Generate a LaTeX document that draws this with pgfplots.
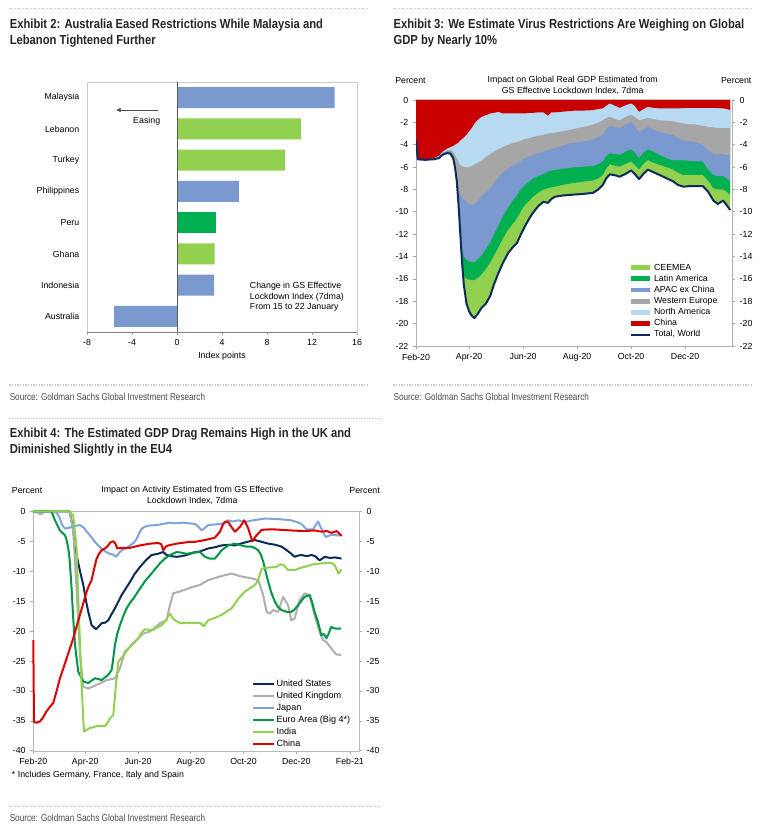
\documentclass[border=0pt]{standalone}
\usepackage{fontspec}
\setmainfont{Liberation Sans}
\newfontfamily\titlefont[FakeStretch=0.86]{Liberation Sans}
\newfontfamily\srcfont[FakeStretch=0.82]{Liberation Sans}
\usepackage{pgfplots}
\usepackage{pgfplotstable}
\pgfplotsset{compat=1.18}
\usetikzlibrary{arrows.meta}

\definecolor{gsblue}{RGB}{122,153,206}
\definecolor{gslgreen}{RGB}{146,208,80}
\definecolor{gsdgreen}{RGB}{0,176,80}
\definecolor{gsgrey}{RGB}{166,166,166}
\definecolor{gslblue}{RGB}{183,217,242}
\definecolor{gsred}{RGB}{200,0,0}
\definecolor{gsnavy}{RGB}{12,42,92}
\definecolor{ukgrey}{RGB}{175,175,175}
\definecolor{jpblue}{RGB}{125,165,215}
\definecolor{eagreen}{RGB}{0,150,70}
\definecolor{cnred}{RGB}{220,0,0}

\newcommand\cf{\fontsize{6.6}{7.9}\selectfont}
\newcommand\ttl{\titlefont\bfseries\fontsize{9.8}{12}\selectfont}
\newcommand\src{\srcfont\fontsize{7.5}{9}\selectfont}

% Exhibit 3: lower edges of the stacked regions (day 0 = 1 Feb 2020)
% b1 China, b2 North America, b3 Western Europe, b4 APAC ex China,
% b5 Latin America, b6 CEEMEA = total
\pgfplotstableread{
d b1 b2 b3 b4 b5 b6
0 -3.6 -3.6 -3.6 -3.6 -3.6 -3.6
2 -5.3 -5.3 -5.3 -5.3 -5.3 -5.3
10 -5.35 -5.35 -5.35 -5.35 -5.35 -5.35
20 -5.2 -5.25 -5.28 -5.3 -5.3 -5.3
26 -5.0 -5.1 -5.15 -5.15 -5.18 -5.2
30 -4.6 -4.7 -4.75 -4.8 -4.85 -4.9
35 -4.35 -4.5 -4.6 -4.65 -4.7 -4.75
39 -4.2 -4.45 -4.6 -4.65 -4.7 -4.8
42 -4.1 -4.6 -4.9 -5.0 -5.1 -5.2
44 -4.0 -4.9 -5.6 -5.8 -5.9 -6.0
46 -3.9 -5.2 -6.8 -7.0 -7.1 -7.2
48 -3.8 -5.5 -7.8 -9.0 -9.2 -9.3
50 -3.6 -5.8 -8.4 -11.8 -11.8 -11.9
52 -3.5 -5.9 -8.7 -13.3 -14.3 -14.5
54 -3.35 -5.96 -8.9 -14.0 -15.7 -16.5
57 -3.1 -6.0 -9.1 -14.3 -16.0 -18.2
60 -2.8 -6.0 -9.3 -14.4 -16.05 -18.9
63 -2.5 -5.9 -9.4 -14.5 -16.1 -19.3
66 -2.1 -5.75 -9.3 -14.5 -16.1 -19.5
70 -1.75 -5.6 -9.0 -14.2 -15.9 -19.1
74 -1.5 -5.4 -8.6 -13.9 -15.6 -18.6
79 -1.35 -5.1 -8.25 -13.3 -15.1 -18.2
84 -1.2 -4.8 -7.9 -12.7 -14.5 -17.5
88 -1.15 -4.6 -7.4 -12.0 -13.9 -16.5
93 -1.05 -4.4 -6.9 -11.2 -13.2 -15.5
98 -1.2 -4.2 -6.5 -10.4 -12.4 -14.6
104 -1.2 -4.0 -6.1 -9.6 -11.6 -13.7
109 -1.2 -3.85 -5.9 -9.0 -11.1 -13.2
114 -1.2 -3.75 -5.7 -8.5 -10.6 -12.8
118 -1.2 -3.65 -5.45 -8.0 -10.0 -12.1
123 -1.2 -3.5 -5.2 -7.6 -9.4 -11.3
128 -1.15 -3.4 -5.05 -7.3 -9.0 -10.6
132 -1.15 -3.3 -4.9 -7.0 -8.65 -10.1
138 -1.1 -3.2 -4.75 -6.8 -8.3 -9.5
144 -1.1 -3.1 -4.6 -6.6 -8.0 -9.1
149 -1.4 -3.0 -4.45 -6.4 -7.9 -9.2
153 -1.1 -2.95 -4.35 -6.3 -7.8 -8.85
157 -1.1 -2.9 -4.3 -6.26 -7.75 -8.65
165 -1.05 -2.8 -4.1 -6.15 -7.6 -8.55
172 -1.0 -2.7 -3.9 -6.1 -7.5 -8.5
180 -0.95 -2.55 -3.8 -6.0 -7.4 -8.45
189 -0.95 -2.4 -3.7 -5.96 -7.3 -8.4
200 -0.9 -2.2 -3.5 -5.9 -7.2 -8.3
206 -0.8 -2.0 -3.3 -5.7 -7.0 -8.0
211 -0.75 -1.8 -3.07 -5.5 -6.7 -7.6
215 -0.5 -1.6 -2.6 -5.0 -6.1 -7.0
219 -0.3 -1.5 -2.3 -4.77 -5.75 -6.65
226 -0.55 -1.7 -2.45 -4.85 -5.9 -6.75
230 -0.7 -1.8 -2.5 -4.9 -5.95 -6.86
237 -0.45 -1.5 -2.2 -4.6 -5.7 -6.6
243 -0.3 -1.3 -1.94 -4.4 -5.5 -6.3
247 -0.5 -1.5 -2.3 -4.7 -5.8 -6.6
252 -1.05 -1.8 -2.9 -5.2 -6.2 -7.07
257 -0.8 -1.7 -2.6 -4.7 -5.7 -6.6
262 -0.6 -1.6 -2.4 -4.4 -5.37 -6.23
268 -0.7 -1.7 -2.6 -4.6 -5.6 -6.45
275 -0.75 -1.8 -2.85 -4.9 -5.8 -6.7
283 -0.75 -1.85 -3.0 -5.2 -6.0 -7.0
290 -0.75 -1.9 -3.1 -5.4 -6.2 -7.25
296 -0.75 -2.0 -3.4 -5.4 -6.5 -7.6
302 -0.72 -2.1 -3.6 -5.4 -6.7 -7.75
310 -0.7 -2.15 -3.7 -5.45 -6.7 -7.7
317 -0.7 -2.2 -3.8 -5.5 -6.7 -7.7
324 -0.7 -2.3 -4.0 -5.5 -6.7 -7.7
330 -0.7 -2.4 -4.5 -6.2 -7.2 -8.2
336 -0.7 -2.45 -4.8 -6.7 -7.9 -9.0
341 -0.72 -2.5 -4.85 -6.8 -8.0 -9.3
347 -0.75 -2.5 -4.85 -6.8 -8.0 -9.0
351 -0.8 -2.5 -4.9 -7.0 -8.2 -9.4
355 -0.9 -2.5 -4.9 -7.25 -8.5 -9.85
}\gdp

\pgfplotsset{
  gs/.style={scale only axis, anchor=north west,
    /pgf/number format/assume math mode=true,
    ticklabel style={font=\cf},
    tick align=outside, major tick length=2.25pt,
    tick style={gray!70, line width=0.5pt},
    axis line style={gray!60}},
  legend image code/.code={\draw[#1] (0pt,0pt) -- (14.5pt,0pt);},
}

\begin{document}
\begin{tikzpicture}
\path[use as bounding box, fill=white] (0,0) rectangle (575.25pt,-628.5pt);

\begin{scope}[x=0.75pt,y=-0.75pt]
% separators
\draw[gray!45, line width=1pt, densely dotted] (9.3,8.3) -- (369,8.3);
\draw[gray!45, line width=1pt, densely dotted] (393.3,8.3) -- (752.7,8.3);
\draw[gray!45, line width=1pt, densely dotted] (9.3,385) -- (369,385);
\draw[gray!45, line width=1pt, densely dotted] (393.3,385) -- (752.7,385);
\draw[gray!45, line width=1pt, densely dotted] (9.3,418.3) -- (381,418.3);
\draw[gray!45, line width=1pt, densely dotted] (9.3,806.7) -- (381,806.7);
% titles
\node[anchor=base west, inner sep=0, font=\ttl, text=black!85] at (9.5,28.3) {Exhibit 2: Australia Eased Restrictions While Malaysia and};
\node[anchor=base west, inner sep=0, font=\ttl, text=black!85] at (9.5,44.5) {Lebanon Tightened Further};
\node[anchor=base west, inner sep=0, font=\ttl, text=black!85] at (393.3,28.3) {Exhibit 3: We Estimate Virus Restrictions Are Weighing on Global};
\node[anchor=base west, inner sep=0, font=\ttl, text=black!85] at (393.3,44.5) {GDP by Nearly 10\%};
\node[anchor=base west, inner sep=0, font=\ttl, text=black!85] at (9.5,437) {Exhibit 4: The Estimated GDP Drag Remains High in the UK and};
\node[anchor=base west, inner sep=0, font=\ttl, text=black!85] at (9.5,453.5) {Diminished Slightly in the EU4};
% sources
\node[anchor=base west, inner sep=0, font=\src, text=black!70] at (9.5,400) {Source: Goldman Sachs Global Investment Research};
\node[anchor=base west, inner sep=0, font=\src, text=black!70] at (393.3,400) {Source: Goldman Sachs Global Investment Research};
\node[anchor=base west, inner sep=0, font=\src, text=black!70] at (9.5,821.7) {Source: Goldman Sachs Global Investment Research};
% exhibit 2 notes
\draw[gray!60!black, line width=0.5pt, -{Latex[length=3.5pt,width=3.5pt]}] (158,110) -- (116,110);
\node[font=\cf] at (146.7,121) {Easing};
\node[font=\cf, anchor=north west, align=left, inner sep=0] at (249.7,282) {Change in GS Effective\\Lockdown Index (7dma)\\From 15 to 22 January};
% exhibit 3 headings
\node[font=\cf, anchor=west, inner sep=0] at (395,80.3) {Percent};
\node[font=\cf, anchor=east, inner sep=0] at (751.7,80.3) {Percent};
\node[font=\cf, align=center, inner sep=0] at (572.7,85.5) {Impact on Global Real GDP Estimated from\\GS Effective Lockdown Index, 7dma};
% exhibit 4 headings
\node[font=\cf, anchor=west, inner sep=0] at (11.7,490.3) {Percent};
\node[font=\cf, anchor=east, inner sep=0] at (380,490.3) {Percent};
\node[font=\cf, align=center, inner sep=0] at (192.3,495.5) {Impact on Activity Estimated from GS Effective\\Lockdown Index, 7dma};
\node[font=\cf, anchor=west, inner sep=0] at (11.7,775.7) {* Includes Germany, France, Italy and Spain};
\end{scope}

% ---------------- Exhibit 2 ----------------
\begin{axis}[gs, at={(87*0.75pt,-82*0.75pt)}, width=202.5pt, height=187.5pt,
  xbar, bar width=15.75pt,
  xmin=-8, xmax=16, ymin=-0.5, ymax=7.5,
  xtick={-8,-4,0,4,8,12,16}, ytick={0,...,7},
  yticklabels={Australia,Indonesia,Ghana,Peru,Philippines,Turkey,Lebanon,Malaysia},
  ytick style={draw=none}, xtick pos=bottom, ytick pos=left,
  yticklabel style={xshift=0pt},
  axis line style={gray!40},
  xlabel={Index points}, xlabel style={font=\cf, yshift=2pt}]
\addplot[fill=gsblue, draw=none, bar shift=0pt] coordinates {(14,7) (5.5,4) (3.3,1) (-5.6,0)};
\addplot[fill=gslgreen, draw=none, bar shift=0pt] coordinates {(11,6) (9.6,5) (3.35,2)};
\addplot[fill=gsdgreen, draw=none, bar shift=0pt] coordinates {(3.5,3)};
\draw[gray!70!black, line width=0.6pt] (axis cs:0,-0.5) -- (axis cs:0,7.5);
\draw[gray, line width=0.6pt] (axis description cs:0,0) -- (axis description cs:1,0);
\end{axis}

% ---------------- Exhibit 3 ----------------
\begin{axis}[gs, at={(416*0.75pt,-100*0.75pt)}, width=237pt, height=184.5pt,
  xmin=0, xmax=357, ymin=-22, ymax=0,
  ytick={-22,-20,...,0},
  xtick={0,60,121,182,243,304},
  xticklabels={Feb-20,Apr-20,Jun-20,Aug-20,Oct-20,Dec-20},
  axis x line*=bottom, axis y line*=left,
  legend style={at={(0.672,0.342)}, anchor=north west, draw=none, fill=none,
    font=\cf, inner sep=0pt, row sep=0pt,
    nodes={inner ysep=0.4pt, inner xsep=1pt, text height=5.6pt, text depth=1.95pt}},
  legend cell align=left]
% painted from the bottom layer up, each from zero down to its lower edge
\addplot[fill=gslgreen, draw=none, forget plot] table[x=d, y=b6] {\gdp} \closedcycle;
\addplot[fill=gsdgreen, draw=none, forget plot] table[x=d, y=b5] {\gdp} \closedcycle;
\addplot[fill=gsblue, draw=none, forget plot] table[x=d, y=b4] {\gdp} \closedcycle;
\addplot[fill=gsgrey, draw=none, forget plot] table[x=d, y=b3] {\gdp} \closedcycle;
\addplot[fill=gslblue, draw=none, forget plot] table[x=d, y=b2] {\gdp} \closedcycle;
\addplot[fill=gsred, draw=none, forget plot] table[x=d, y=b1] {\gdp} \closedcycle;
\addplot[gsnavy, line width=1.5pt, line join=round, forget plot] table[x=d, y=b6] {\gdp};
\addlegendimage{gslgreen, line width=3.6pt}\addlegendentry{CEEMEA}
\addlegendimage{gsdgreen, line width=3.6pt}\addlegendentry{Latin America}
\addlegendimage{gsblue, line width=3.6pt}\addlegendentry{APAC ex China}
\addlegendimage{gsgrey, line width=3.6pt}\addlegendentry{Western Europe}
\addlegendimage{gslblue, line width=3.6pt}\addlegendentry{North America}
\addlegendimage{gsred, line width=3.6pt}\addlegendentry{China}
\addlegendimage{gsnavy, line width=1.5pt}\addlegendentry{Total, World}
\end{axis}
\begin{axis}[gs, at={(416*0.75pt,-100*0.75pt)}, width=237pt, height=184.5pt,
  xmin=0, xmax=357, ymin=-22, ymax=0, ytick={-22,-20,...,0},
  axis x line=none, axis y line*=right, xtick=\empty]
\addplot[draw=none] coordinates {(10,-10) (20,-12)};
\end{axis}

% ---------------- Exhibit 4 ----------------
\begin{axis}[gs, at={(33.3*0.75pt,-511.3*0.75pt)}, width=244.3pt, height=179.6pt,
  clip=false,
  xmin=0, xmax=376.6, ymin=-40, ymax=0,
  ytick={-40,-35,...,0}, ytick pos=left, xtick pos=bottom,
  xtick={0,60,121,182,243,304,366},
  xticklabels={Feb-20,Apr-20,Jun-20,Aug-20,Oct-20,Dec-20,Feb-21},
  axis line style={gray!55},
  legend style={at={(0.6705,0.307)}, anchor=north west, draw=none, fill=none,
    font=\fontsize{6.8}{8}\selectfont, inner sep=0pt, row sep=0pt,
    nodes={inner ysep=0.4pt, inner xsep=1pt, text height=6.0pt, text depth=2.2pt}},
  legend cell align=left,
  legend image code/.code={\draw[#1] (0pt,0pt) -- (16pt,0pt);},
  every axis plot/.append style={line width=1.5pt, line join=round}]
\addplot[gsnavy] coordinates {(0,0) (42,0) (46,-3) (50,-7.3) (54,-10) (57.8,-12.3) (61,-15) (63.6,-16.8) (67.4,-19.0) (72.4,-19.7) (76,-19.2) (79,-18.7) (83,-18.6) (86.7,-18.2) (90,-17.3) (94.4,-16.2) (102.1,-14.0) (111.8,-11.8) (117,-10.5) (123.3,-9.3) (130,-8.2) (136.8,-7.3) (144,-7.1) (150.3,-6.8) (154,-7.3) (160,-7.5) (165.7,-7.6) (171,-7.5) (177.3,-7.3) (185,-6.9) (192.7,-6.7) (202.3,-6.2) (210,-6.0) (217.7,-5.7) (225,-5.6) (233,-5.7) (244.7,-5.2) (256.2,-4.8) (264,-5.1) (271.6,-5.4) (280,-5.6) (287,-5.9) (293,-6.5) (298.3,-7.1) (302,-7.6) (306,-7.4) (310,-7.3) (316,-7.5) (321.5,-7.3) (326,-7.5) (331,-8.2) (337,-7.6) (343,-7.8) (348.6,-7.7) (356.4,-7.9)};
\addlegendentry{United States}
\addplot[ukgrey] coordinates {(0,0) (5,-0.2) (8,-0.5) (11,-0.3) (14,0) (42,0) (46.2,-3.4) (50,-12.9) (54,-24) (57.8,-29.3) (63.6,-29.6) (73.2,-29.0) (84.8,-28.2) (94.4,-27.9) (100.2,-26.2) (106,-23.4) (111.8,-22.6) (119.5,-21.5) (127.2,-20.4) (134.9,-20.1) (140,-19.5) (146.4,-18.7) (154,-18.2) (158,-15.7) (161.8,-13.7) (167,-13.5) (173.4,-13.2) (185,-12.6) (192.7,-12.3) (202.3,-11.5) (217.7,-10.8) (229.3,-10.4) (240.8,-10.9) (252.4,-11.2) (260,-11.5) (265.8,-14.0) (269.6,-16.8) (273.4,-17.1) (277.3,-16.5) (283,-16.8) (288.8,-14.3) (294.6,-15.7) (298.3,-18.2) (302.1,-17.9) (308,-14.8) (313.7,-13.7) (319.4,-14.0) (325.2,-17.4) (331,-20.1) (334.9,-21.5) (338.7,-21.8) (344.5,-22.9) (350.3,-23.9) (356,-24.0)};
\addlegendentry{United Kingdom}
\addplot[jpblue] coordinates {(0,0) (25,0) (28,-0.5) (30.8,-1.2) (33,-2.2) (36.6,-2.9) (40,-2.8) (44.3,-2.6) (50,-2.4) (54,-2.3) (58,-2.7) (63.6,-3.7) (67,-4.3) (71.3,-5.1) (75,-5.7) (79,-6.2) (84,-6.8) (88.6,-7.1) (92,-7.2) (95.6,-7.6) (99,-7.0) (102,-6.5) (107,-6.2) (111.8,-5.7) (116,-5.3) (119.5,-4.6) (122,-3.8) (125.2,-2.9) (129,-2.6) (133,-2.4) (142.6,-2.3) (150,-2.1) (158,-1.9) (165,-2.0) (173.4,-1.9) (180,-2.0) (187,-2.1) (191,-2.6) (194.6,-3.2) (198,-2.8) (202.3,-2.3) (210,-2.2) (217.7,-2.1) (225.4,-1.5) (230,-1.7) (237,-1.5) (244.7,-1.8) (254.3,-1.5) (267.8,-1.2) (283.2,-1.3) (298.3,-1.5) (305,-1.8) (310,-2.1) (315.8,-3.0) (323.5,-3.0) (329.3,-1.7) (333.1,-2.9) (338,-4.3) (345,-3.9) (350,-4.0) (356.4,-4.0)};
\addlegendentry{Japan}
\addplot[eagreen] coordinates {(0,0) (21,0) (25,-1.5) (30.8,-3.2) (36.6,-4.0) (38,-4.5) (40.5,-6.2) (42,-8) (44.3,-12.9) (46,-17.5) (48.2,-22.3) (52,-26.8) (57.8,-28.4) (63.6,-28.7) (67,-28.3) (71.3,-27.9) (75,-28.0) (79,-28.2) (86.7,-27.3) (90.6,-26.5) (92.5,-24.5) (94.4,-22.3) (97,-20.5) (100.2,-19.0) (104,-17.5) (107.9,-16.2) (111.8,-15.3) (115.6,-14.6) (123.3,-12.9) (130,-11.5) (134.9,-10.7) (140,-9.8) (146.4,-8.7) (152,-7.9) (158,-7.3) (165.7,-6.8) (171,-6.9) (177.3,-7.1) (185,-6.9) (192.7,-6.8) (198.5,-7.6) (204,-7.9) (210,-7.9) (214,-7.2) (217.7,-6.5) (225.4,-5.7) (233,-5.4) (240.8,-5.7) (246,-5.9) (252.4,-5.9) (257,-6.2) (260,-6.5) (263,-7.2) (265.8,-8.4) (271.6,-11.8) (275,-13.5) (279.3,-15.1) (283,-16.0) (287,-16.5) (293,-16.8) (298.3,-16.8) (302,-16.4) (306,-15.7) (313.5,-14.3) (319.4,-14.0) (322,-15.0) (325.2,-16.8) (329,-18.4) (333,-20.7) (336,-20.5) (338.7,-21.2) (341,-20.6) (344.5,-19.3) (347,-19.5) (350.3,-19.6) (356,-19.6)};
\addlegendentry{Euro Area (Big 4*)}
\addplot[gslgreen] coordinates {(0,0) (42,0) (46.2,-0.7) (50,-6.2) (53,-18.4) (56,-29.6) (58.6,-36.8) (62,-36.5) (65.5,-36.2) (73.2,-35.9) (82.9,-35.9) (86,-35.3) (88.6,-34.6) (92.5,-34.0) (95.6,-29.0) (98.3,-25.1) (102,-24.5) (106,-23.7) (113.7,-22.3) (121.4,-21.2) (125,-20.3) (129.1,-19.7) (134,-19.8) (138.7,-19.8) (143,-19.4) (148.4,-19.0) (153,-18.2) (158,-17.1) (162,-18.0) (165.7,-18.4) (171,-18.7) (177.3,-18.6) (185,-18.7) (192.7,-18.6) (197,-19.2) (202.3,-18.2) (210,-17.8) (217.7,-17.3) (223,-16.8) (229.3,-16.2) (237,-14.6) (244.7,-13.4) (250,-12.9) (256.2,-12.3) (260,-11.5) (264,-9.6) (271.6,-9.4) (281,-9.3) (285,-8.9) (288.8,-8.9) (294.6,-9.8) (302.1,-9.8) (310,-9.4) (316,-9.2) (321.5,-8.9) (333,-8.7) (344.5,-8.6) (348.4,-9.0) (353,-10.4) (356,-9.7)};
\addlegendentry{India}
\addplot[cnred] coordinates {(0,-21.5) (0.8,-35.2) (4,-35.3) (7.7,-35.1) (11,-34.5) (15.4,-33.4) (19,-32.7) (23.1,-32.0) (27,-30) (30.8,-27.9) (38.5,-24.6) (46.2,-21.2) (53.9,-17.3) (61.7,-13.4) (64,-12.5) (67.4,-11.5) (70,-9.8) (73.2,-7.9) (76,-7.1) (79,-6.5) (83,-6.2) (86.7,-5.7) (89,-5.2) (92.5,-5.0) (95,-5.4) (97.1,-6.2) (102.1,-6.1) (111.8,-6.1) (123.3,-5.7) (134.9,-5.4) (144.5,-5.3) (148,-5.5) (150.3,-6.5) (153,-5.9) (156.1,-5.7) (165.7,-5.4) (181.1,-5.1) (187,-5.1) (198.5,-4.8) (210,-4.4) (215.8,-3.4) (219,-2.3) (222,-1.7) (225.4,-1.8) (229,-2.6) (233.1,-3.4) (238.9,-2.6) (244,-1.5) (248.6,-2.9) (253.2,-5.0) (258.2,-4.0) (264,-3.1) (275.5,-3.0) (287,-3.1) (298.3,-3.2) (313.3,-3.3) (325,-3.2) (333.3,-3.4) (339.3,-3.3) (345,-3.6) (350.7,-3.3) (356.4,-4.1)};
\addlegendentry{China}
\end{axis}
\begin{axis}[gs, at={(33.3*0.75pt,-511.3*0.75pt)}, width=244.3pt, height=179.6pt,
  xmin=0, xmax=376.6, ymin=-40, ymax=0, ytick={-40,-35,...,0},
  axis x line=none, axis y line*=right, xtick=\empty, axis line style={gray!55}]
\addplot[draw=none] coordinates {(10,-10) (20,-12)};
\end{axis}
\end{tikzpicture}
\end{document}
